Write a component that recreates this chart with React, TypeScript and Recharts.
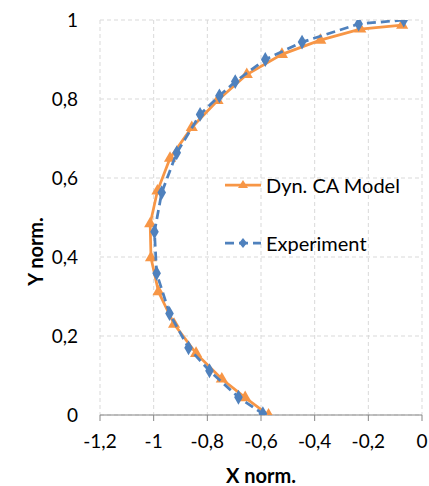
import { ScatterChart, Scatter, XAxis, YAxis, ZAxis, CartesianGrid, Legend, Label } from "recharts";

const modelX = [-0.074, -0.23, -0.379, -0.522, -0.653, -0.762, -0.858, -0.939, -0.986, -1.013, -1.01, -0.982, -0.924, -0.842, -0.746, -0.659, -0.572];
const modelY = [0.987, 0.977, 0.949, 0.913, 0.862, 0.796, 0.728, 0.65, 0.567, 0.484, 0.398, 0.312, 0.23, 0.156, 0.091, 0.044, 0];

const expX = [-0.068, -0.236, -0.447, -0.584, -0.696, -0.755, -0.827, -0.914, -0.97, -0.997, -0.989, -0.941, -0.87, -0.792, -0.684, -0.593];
const expY = [1.0, 0.99, 0.944, 0.9, 0.844, 0.808, 0.761, 0.664, 0.563, 0.464, 0.359, 0.257, 0.17, 0.112, 0.045, 0.003];

const xTicks = [-1.2, -1, -0.8, -0.6, -0.4, -0.2, 0];
const yTicks = [0, 0.2, 0.4, 0.6, 0.8, 1];

const seriesNames = ["Dyn. CA Model", "Experiment"];

const ORANGE = "#F79646";
const BLUE = "#4F81BD";
const FONT = "Lato, 'Open Sans', sans-serif";

const modelData = modelX.map((x, i) => ({ x, y: modelY[i] }));
const expData = expX.map((x, i) => ({ x, y: expY[i] }));

const fmt = (v: number) => String(v).replace(".", ",");

function LegendBox() {
  return (
    <div style={{ fontFamily: FONT, fontSize: 20, color: "#000" }}>
      <div style={{ display: "flex", alignItems: "center", height: 58 }}>
        <svg width={38} height={14} style={{ marginRight: 3 }}>
          <line x1={0} y1={7} x2={36} y2={7} stroke={ORANGE} strokeWidth={2.75} />
          <polygon points="18,2 23,10 13,10" fill={ORANGE} />
        </svg>
        <span>{seriesNames[0]}</span>
      </div>
      <div style={{ display: "flex", alignItems: "center", height: 58 }}>
        <svg width={38} height={14} style={{ marginRight: 3 }}>
          <line x1={0} y1={7} x2={36} y2={7} stroke={BLUE} strokeWidth={2.75} strokeDasharray="9 5" />
          <polygon points="18,2 22,7 18,12 14,7" fill={BLUE} />
        </svg>
        <span>{seriesNames[1]}</span>
      </div>
    </div>
  );
}

export default function App() {
  return (
    <div style={{ position: "absolute", left: 0, top: 0, background: "#fff" }}>
      <ScatterChart width={429} height={486} margin={{ top: 20, right: 7, bottom: 0, left: 0 }}>
        <CartesianGrid stroke="#d9d9d9" strokeDasharray="4 3" />
        <XAxis
          type="number"
          dataKey="x"
          domain={[-1.2, 0]}
          ticks={xTicks}
          tickFormatter={fmt}
          height={71}
          tickSize={6}
          tickMargin={14}
          axisLine={{ stroke: "#868686" }}
          tickLine={{ stroke: "#868686" }}
          tick={{ fill: "#000", fontSize: 19, fontFamily: FONT }}
          allowDataOverflow
        >
          <Label value="X norm." position="insideBottom" offset={3} style={{ fontFamily: FONT, fontSize: 20, fontWeight: 700, fill: "#000" }} />
        </XAxis>
        <YAxis
          type="number"
          dataKey="y"
          domain={[0, 1]}
          ticks={yTicks}
          tickFormatter={fmt}
          width={100}
          tickSize={0}
          tickMargin={22}
          axisLine={false}
          tickLine={false}
          tick={{ fill: "#000", fontSize: 19, fontFamily: FONT }}
          allowDataOverflow
        >
          <Label
            content={(props: any) => {
              const vb = props.viewBox || { x: 0, y: 20, width: 100, height: 395 };
              return (
                <text
                  transform={`translate(${vb.x + 43}, ${vb.y + vb.height / 2 + 34}) rotate(-90)`}
                  textAnchor="middle"
                  style={{ fontFamily: FONT, fontSize: 20, fontWeight: 700, fill: "#000" }}
                >
                  Y norm.
                </text>
              );
            }}
          />
        </YAxis>
        <ZAxis range={[50, 50]} />
        <Legend
          layout="horizontal"
          verticalAlign="middle"
          align="center"
          content={() => <LegendBox />}
          wrapperStyle={{ left: 225, top: 156, width: "auto" }}
        />
        <Scatter
          name={seriesNames[0]}
          data={modelData}
          fill={ORANGE}
          shape="triangle"
          line={{ stroke: ORANGE, strokeWidth: 2.75 }}
          lineType="joint"
          isAnimationActive={false}
        />
        <Scatter
          name={seriesNames[1]}
          data={expData}
          fill={BLUE}
          shape="diamond"
          line={{ stroke: BLUE, strokeWidth: 2.75, strokeDasharray: "9 5" }}
          lineType="joint"
          isAnimationActive={false}
        />
      </ScatterChart>
    </div>
  );
}
